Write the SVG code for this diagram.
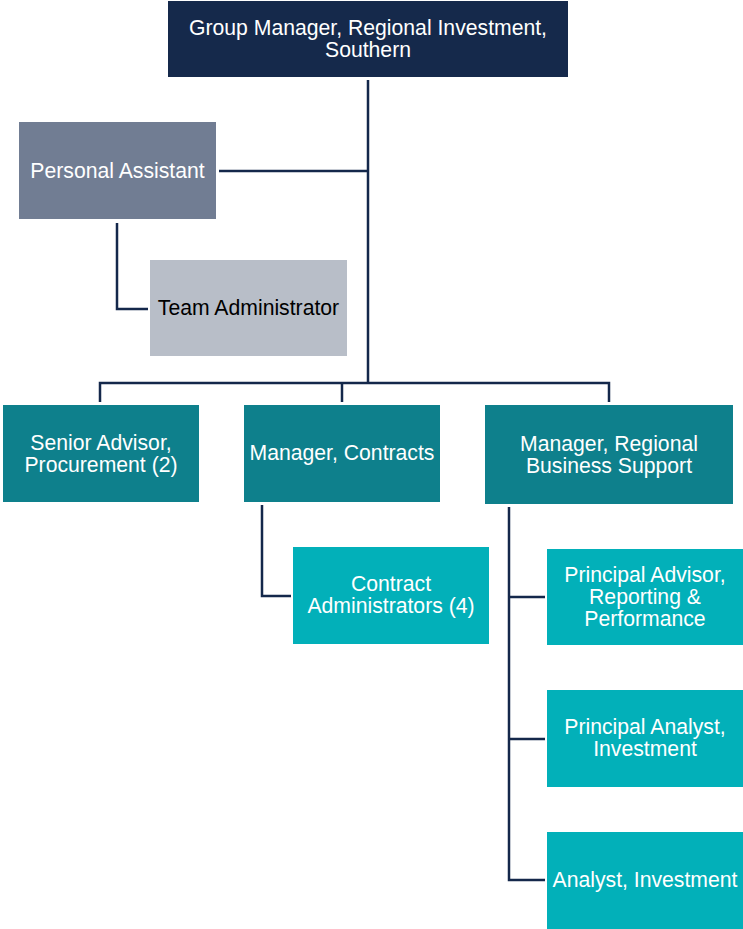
<svg xmlns="http://www.w3.org/2000/svg" width="743" height="929" viewBox="0 0 743 929">
<style>
.t{font-family:"Liberation Sans",Arial,sans-serif;font-size:21.2px;fill:#ffffff;text-anchor:middle}
.dk{fill:#000000}
.ln{fill:none;stroke:#14284b;stroke-width:2.5}
.navy{fill:#15294b}
.pa{fill:#717d93}
.ta{fill:#b8bec8}
.tl{fill:#0e808c}
.lt{fill:#02b0b9}
</style>
<rect width="743" height="929" fill="#ffffff"/>
<g id="connectors">
<path class="ln" d="M368 80 V383"/>
<path class="ln" d="M219 171 H368"/>
<path class="ln" d="M117 223 V309 H148"/>
<path class="ln" d="M100 402 V383 H609 V402"/>
<path class="ln" d="M342 383 V402"/>
<path class="ln" d="M262 505 V596 H291"/>
<path class="ln" d="M509 507 V880 H545"/>
<path class="ln" d="M509 597 H545"/>
<path class="ln" d="M509 739 H545"/>
</g>
<g id="n-group-manager">
<rect class="navy" x="168" y="1" width="400" height="76"/>
<text class="t" x="368" y="35">Group Manager, Regional Investment,</text>
<text class="t" x="368" y="57">Southern</text>
</g>
<g id="n-personal-assistant">
<rect class="pa" x="19" y="122" width="197" height="97"/>
<text class="t" x="117.5" y="178">Personal Assistant</text>
</g>
<g id="n-team-administrator">
<rect class="ta" x="150" y="260" width="197" height="96"/>
<text class="t dk" x="248.5" y="315">Team Administrator</text>
</g>
<g id="n-senior-advisor">
<rect class="tl" x="3" y="405" width="196" height="97"/>
<text class="t" x="101" y="450">Senior Advisor,</text>
<text class="t" x="101" y="472">Procurement (2)</text>
</g>
<g id="n-manager-contracts">
<rect class="tl" x="244" y="405" width="196" height="97"/>
<text class="t" x="342" y="460">Manager, Contracts</text>
</g>
<g id="n-manager-rbs">
<rect class="tl" x="485" y="405" width="248" height="99"/>
<text class="t" x="609" y="451">Manager, Regional</text>
<text class="t" x="609" y="473">Business Support</text>
</g>
<g id="n-contract-admins">
<rect class="lt" x="293" y="547" width="196" height="97"/>
<text class="t" x="391" y="591">Contract</text>
<text class="t" x="391" y="613">Administrators (4)</text>
</g>
<g id="n-principal-advisor">
<rect class="lt" x="547" y="549" width="196" height="96"/>
<text class="t" x="645" y="582">Principal Advisor,</text>
<text class="t" x="645" y="604">Reporting &amp;</text>
<text class="t" x="645" y="626">Performance</text>
</g>
<g id="n-principal-analyst">
<rect class="lt" x="547" y="690" width="196" height="97"/>
<text class="t" x="645" y="734">Principal Analyst,</text>
<text class="t" x="645" y="756">Investment</text>
</g>
<g id="n-analyst">
<rect class="lt" x="547" y="832" width="196" height="97"/>
<text class="t" x="645" y="887">Analyst, Investment</text>
</g>
</svg>
